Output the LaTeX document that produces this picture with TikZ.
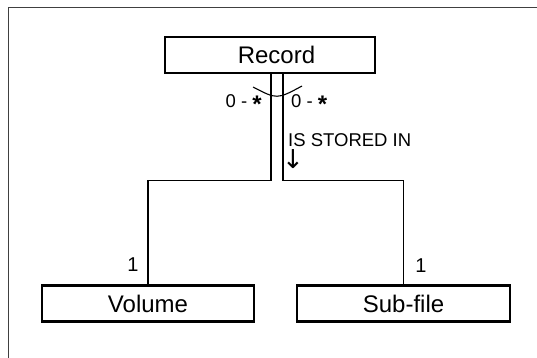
\documentclass[tikz,border=0pt]{standalone}
\usepackage{fontspec}
\setmainfont{Liberation Sans}
\newfontfamily\arrowfont{DejaVu Sans}
\newcommand{\bigast}{\raisebox{-5pt}{\fontsize{24}{24}\selectfont\textbf{*}}}
\begin{document}
\begin{tikzpicture}[x=1pt,y=-1pt,
  entity/.style={draw,line width=2.6pt,minimum height=36pt,inner sep=0pt,font=\fontsize{24}{26}\selectfont},
  conn/.style={line width=1.1pt},
  lbl/.style={inner sep=0pt,font=\fontsize{18.5}{20}\selectfont}]
\useasboundingbox (0,0) rectangle (537,358);
\draw[line width=1.2pt,black!75] (8.5,358) -- (8.5,7.5) -- (537,7.5);
\node[entity,minimum width=210pt] (record) at (270,55) {\hspace*{13pt}Record};
\node[entity,minimum width=212pt] (volume) at (148,303.5) {Volume};
\node[entity,minimum width=213pt] (subfile) at (403.5,303.5) {Sub-file};
\coordinate (l) at ([xshift=1pt]record.south);
\coordinate (r) at ([xshift=13pt]record.south);
\draw[conn] (l) -- ++(0,106) -| (volume.north);
\draw[conn] (r) -- ++(0,106) -| (subfile.north);
\draw[conn] (253,87) .. controls (277,99.5) .. (302,86);
\node[lbl,anchor=east] (m1) at (262,104) {0 - \bigast};
\node[lbl,anchor=west] (m2) at (291,104) {0 - \bigast};
\node[lbl,anchor=west] (rel) at (288,140) {IS STORED IN};
\node[lbl,anchor=west,font=\arrowfont\fontsize{26}{26}\selectfont] (arr) at (282,159) {↓};
\node[lbl,font=\fontsize{20}{22}\selectfont] (c1) at (133,265) {1};
\node[lbl,font=\fontsize{20}{22}\selectfont] (c2) at (421,266) {1};
\end{tikzpicture}
\end{document}
